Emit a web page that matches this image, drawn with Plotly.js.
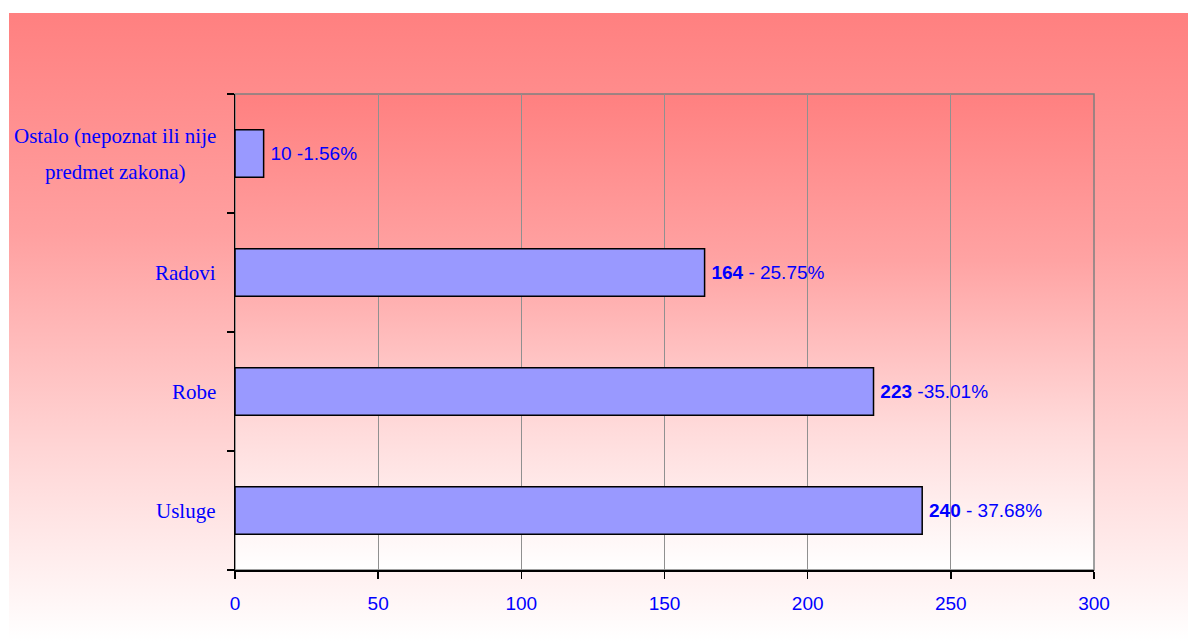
<!DOCTYPE html>
<html>
<head>
<meta charset="utf-8">
<script src="https://cdn.plot.ly/plotly-3.0.1.min.js"></script>
<style>
  html, body { margin: 0; padding: 0; background: #ffffff; }
  #wrap { position: relative; width: 1188px; height: 641px; overflow: hidden; }
  #outerbg { position: absolute; left: 9px; top: 13px; width: 1179px; height: 628px;
             background: linear-gradient(to bottom, #FF8080 0%, #FFA0A0 35%, #FFD6D6 70%, #FFFFFF 100%); }
  #plotbg { position: absolute; left: 235px; top: 94px; width: 860px; height: 476px;
            background: linear-gradient(to bottom, #FF8080 0%, #FFA3A3 35%, #FFDADA 70%, #FFFFFF 100%); }
  #chart { position: absolute; left: 0; top: 0; width: 1188px; height: 641px; }
</style>
</head>
<body>
<div id="wrap">
  <div id="outerbg"></div>
  <div id="plotbg"></div>
  <div id="chart"></div>
</div>
<script>
// Data (bottom to top)
const categories = ['Usluge', 'Robe', 'Radovi', 'Ostalo (nepoznat ili nije predmet zakona)'];
const categoryLines = [['Usluge'], ['Robe'], ['Radovi'], ['Ostalo (nepoznat ili nije', 'predmet zakona)']];
const values = [240, 223, 164, 10];
const percents = ['37.68%', '35.01%', '25.75%', '1.56%'];
const labelTexts = ['<b>240</b> - 37.68%', '<b>223</b> -35.01%', '<b>164</b> - 25.75%', '10 -1.56%'];
const xTicks = [0, 50, 100, 150, 200, 250, 300];

const blue = '#0000FF';

const trace = {
  type: 'bar',
  orientation: 'h',
  y: categories,
  x: values,
  width: 0.4,
  marker: { color: '#9999FF', line: { color: '#000000', width: 1.5 } },
  text: labelTexts.map(t => '\u2009' + t),
  textposition: 'outside',
  textfont: { family: 'Liberation Sans, Arial, sans-serif', size: 19, color: blue },
  constraintext: 'none',
  cliponaxis: false,
  hoverinfo: 'none'
};

const annotations = [];
categoryLines.forEach((lines, i) => {
  const n = lines.length;
  lines.forEach((ln, j) => {
    const multi = n > 1;
    annotations.push({
      xref: 'paper', yref: 'y',
      x: multi ? -0.1395 : 0,
      y: categories[i],
      xanchor: multi ? 'center' : 'right',
      yanchor: 'middle',
      xshift: multi ? 0 : -17,
      yshift: (((n - 1) / 2) - j) * 36,
      text: ln,
      showarrow: false,
      font: { family: 'Liberation Serif, Times New Roman, serif', size: 21, color: blue }
    });
  });
});

const layout = {
  width: 1188,
  height: 641,
  margin: { l: 235, r: 94, t: 94, b: 71, pad: 0 },
  paper_bgcolor: 'rgba(0,0,0,0)',
  plot_bgcolor: 'rgba(0,0,0,0)',
  showlegend: false,
  bargap: 0.6,
  xaxis: {
    range: [0, 300],
    tickvals: xTicks,
    ticktext: xTicks.map(String),
    showgrid: true,
    gridcolor: '#909090',
    gridwidth: 1,
    zeroline: false,
    showline: true,
    linecolor: '#000000',
    linewidth: 1.5,
    ticks: 'outside',
    ticklen: 7,
    tickwidth: 1.5,
    tickcolor: '#000000',
    ticklabelstandoff: 9,
    tickfont: { family: 'Liberation Sans, Arial, sans-serif', size: 19, color: blue },
    fixedrange: true
  },
  yaxis: {
    type: 'category',
    categoryorder: 'array',
    categoryarray: categories,
    range: [-0.5, 3.5],
    showgrid: false,
    zeroline: false,
    showline: true,
    linecolor: '#000000',
    linewidth: 1.5,
    ticks: 'outside',
    tickson: 'boundaries',
    ticklen: 7,
    tickwidth: 1.5,
    tickcolor: '#000000',
    showticklabels: false,
    fixedrange: true
  },
  shapes: [{
    type: 'rect', xref: 'paper', yref: 'paper', x0: 0, x1: 1, y0: 0, y1: 1,
    line: { color: '#808080', width: 1.5 }, fillcolor: 'rgba(0,0,0,0)', layer: 'below'
  }],
  annotations: annotations
};

Plotly.newPlot('chart', [trace], layout, { displayModeBar: false, staticPlot: true });
</script>
</body>
</html>
